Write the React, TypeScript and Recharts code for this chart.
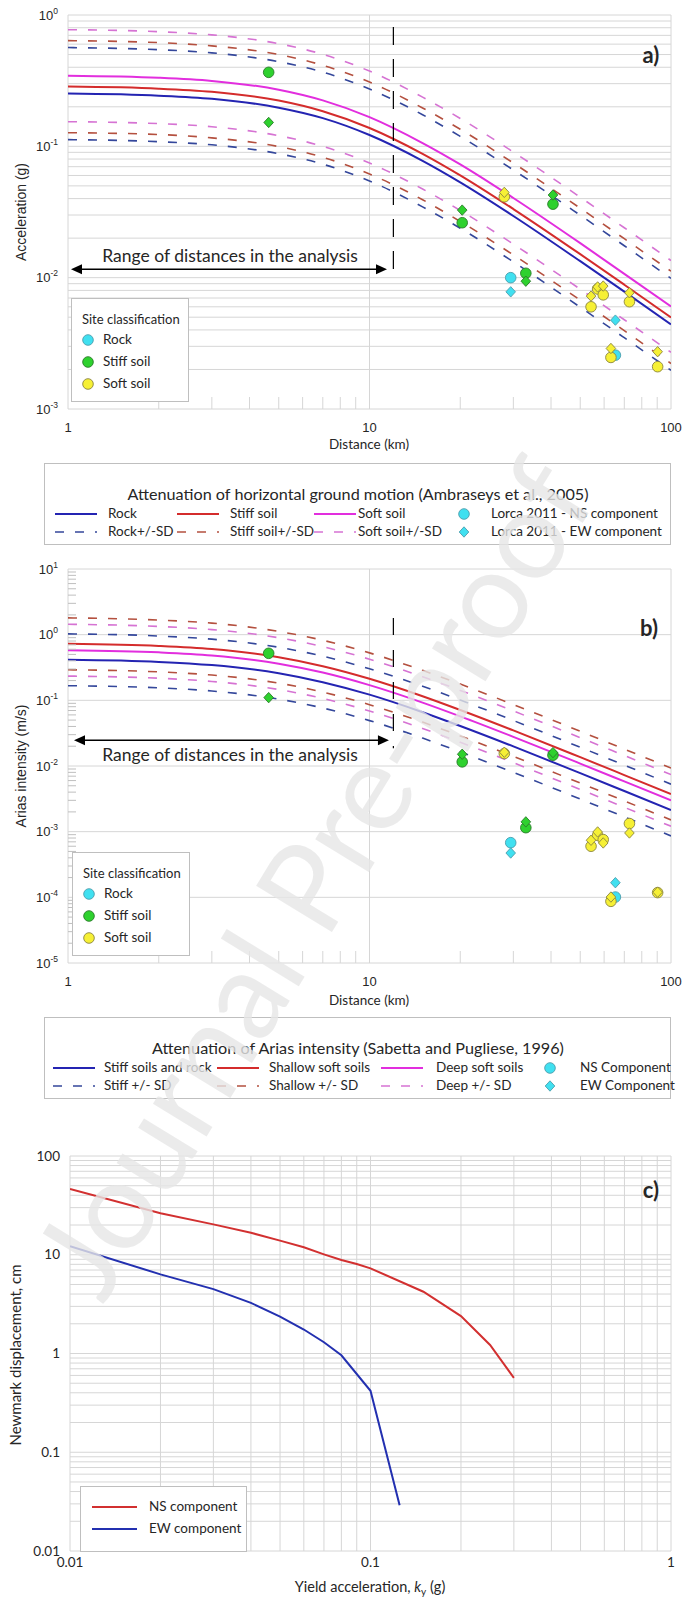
import React from 'react';
import { ComposedChart, Line, Scatter, XAxis, YAxis, CartesianGrid, ReferenceLine } from 'recharts';

// distances (km) at which the attenuation curves were read
const DIST = [1, 2, 3, 5, 7, 10, 15, 20, 30, 50, 70, 100];

// a) PGA, Ambraseys et al. 2005
const PGA_ROCK = [0.252, 0.243, 0.23, 0.197, 0.164, 0.122, 0.0776, 0.0532, 0.0295, 0.01335, 0.00782, 0.00441];
const PGA_STIFF = [0.285, 0.275, 0.26, 0.223, 0.185, 0.138, 0.0877, 0.0601, 0.0333, 0.0151, 0.00884, 0.00498];
const PGA_SOFT = [0.345, 0.333, 0.315, 0.27, 0.224, 0.167, 0.106, 0.0729, 0.0404, 0.0183, 0.0107, 0.00604];
const PGA_ROCK_HI = [0.565, 0.544, 0.515, 0.441, 0.367, 0.273, 0.174, 0.119, 0.0661, 0.0299, 0.0175, 0.00988];
const PGA_ROCK_LO = [0.1125, 0.1085, 0.1027, 0.0879, 0.0731, 0.0545, 0.0346, 0.0238, 0.0132, 0.00596, 0.00349, 0.00197];
const PGA_STIFF_HI = [0.638, 0.616, 0.582, 0.5, 0.414, 0.309, 0.196, 0.135, 0.0746, 0.0338, 0.0198, 0.0112];
const PGA_STIFF_LO = [0.127, 0.123, 0.116, 0.0996, 0.0826, 0.0616, 0.0392, 0.0268, 0.0149, 0.00674, 0.00395, 0.00222];
const PGA_SOFT_HI = [0.773, 0.746, 0.706, 0.605, 0.502, 0.374, 0.237, 0.163, 0.0905, 0.041, 0.024, 0.0135];
const PGA_SOFT_LO = [0.154, 0.149, 0.141, 0.1205, 0.1, 0.0746, 0.0473, 0.0325, 0.018, 0.00817, 0.00478, 0.0027];

// b) Arias intensity, Sabetta and Pugliese 1996
const IA_ROCK = [0.414, 0.385, 0.344, 0.259, 0.189, 0.122, 0.066, 0.0407, 0.0199, 0.00778, 0.00416, 0.00214];
const IA_SHALLOW = [0.725, 0.673, 0.603, 0.453, 0.331, 0.213, 0.1155, 0.0712, 0.0348, 0.01362, 0.00728, 0.00374];
const IA_DEEP = [0.58, 0.538, 0.482, 0.362, 0.265, 0.1705, 0.0924, 0.057, 0.0278, 0.01089, 0.00582, 0.00299];
const IA_ROCK_HI = [1.027, 0.954, 0.854, 0.642, 0.47, 0.302, 0.1637, 0.1009, 0.0493, 0.0193, 0.01032, 0.00529];
const IA_ROCK_LO = [0.167, 0.155, 0.1388, 0.1043, 0.0764, 0.0491, 0.0266, 0.01641, 0.00801, 0.00314, 0.00168, 0.000861];
const IA_SHALLOW_HI = [1.8, 1.67, 1.5, 1.12, 0.821, 0.528, 0.286, 0.1766, 0.0863, 0.0338, 0.0181, 0.00928];
const IA_SHALLOW_LO = [0.292, 0.271, 0.243, 0.1827, 0.1335, 0.0859, 0.0466, 0.0287, 0.01403, 0.00549, 0.00294, 0.00151];
const IA_DEEP_HI = [1.44, 1.334, 1.195, 0.898, 0.657, 0.423, 0.229, 0.1414, 0.0689, 0.027, 0.01443, 0.00742];
const IA_DEEP_LO = [0.234, 0.217, 0.194, 0.146, 0.1069, 0.0688, 0.0373, 0.023, 0.01121, 0.00439, 0.00235, 0.00121];

// Lorca 2011 records, by site class (distance km)
const ROCK_D = [29.4, 65.4];
const STIFF_D = [4.63, 20.3, 33.0, 40.6];
const SOFT_D = [28.0, 54.3, 57.1, 59.6, 63.2, 72.8, 90.3];

const PGA_ROCK_NS = [0.01, 0.00257];
const PGA_ROCK_EW = [0.0078, 0.00475];
const PGA_STIFF_NS = [0.366, 0.0262, 0.0108, 0.0363];
const PGA_STIFF_EW = [0.152, 0.0327, 0.0094, 0.0426];
const PGA_SOFT_NS = [0.0413, 0.006, 0.0082, 0.0074, 0.00247, 0.00656, 0.0021];
const PGA_SOFT_EW = [0.0446, 0.00724, 0.0085, 0.00863, 0.00289, 0.00767, 0.00273];

const IA_ROCK_NS = [0.00068, 0.000101];
const IA_ROCK_EW = [0.000473, 0.000167];
const IA_STIFF_NS = [0.52, 0.01156, 0.00115, 0.0146];
const IA_STIFF_EW = [0.11, 0.0151, 0.00141, 0.016];
const IA_SOFT_NS = [0.0155, 0.0006, 0.00088, 0.000757, 0.0000869, 0.00133, 0.000118];
const IA_SOFT_EW = [0.0162, 0.00074, 0.00099, 0.000673, 0.000101, 0.000955, 0.00012];

// c) Newmark displacement (cm) vs yield acceleration (g)
const KY_NS = [0.01, 0.02, 0.03, 0.04, 0.05, 0.06, 0.07, 0.08, 0.09, 0.1, 0.15, 0.2, 0.25, 0.3];
const NEWMARK_NS = [46.3, 26.3, 20.3, 16.7, 13.9, 11.9, 10.1, 8.84, 8.05, 7.28, 4.22, 2.39, 1.22, 0.567];
const KY_EW = [0.01, 0.02, 0.03, 0.04, 0.05, 0.06, 0.07, 0.08, 0.1, 0.125];
const NEWMARK_EW = [12.2, 6.33, 4.49, 3.26, 2.36, 1.75, 1.3, 0.96, 0.419, 0.0291];

// ticks
const X_MAJOR_AB = [1, 10, 100];
const Y_MAJOR_A = [0.001, 0.01, 0.1, 1];
const Y_MAJOR_B = [0.00001, 0.0001, 0.001, 0.01, 0.1, 1, 10];
const X_MAJOR_C = [0.01, 0.1, 1];
const Y_MAJOR_C = [0.01, 0.1, 1, 10, 100];

const FONT_UI = 'Lato, "Open Sans", sans-serif';
const FONT_AX = '"Liberation Sans", Arial, sans-serif';
const TXT = '#262626';
const GRID = '#D6D6D6';

const C_BLUE = '#2424B2';
const C_RED = '#D42C2C';
const C_PINK = '#E22EDE';
const C_BLUE_D = '#34479B';
const C_RED_D = '#B4503F';
const C_PINK_D = '#D673D3';
const DASH = '9 11';

const CYAN = '#40E0F0';
const CYAN_S = '#4C9EAE';
const GREEN = '#2ED12E';
const GREEN_S = '#2A7A2A';
const YELLOW = '#F6F035';
const YELLOW_S = '#8A8540';

const pts = (xs: number[], ys: number[]) => xs.map((x, i) => ({ d: x, v: ys[i] }));

function minorsOf(majors: number[]) {
    const out: number[] = [];
    majors.slice(0, -1).forEach((m) => {
        for (let k = 2; k <= 9; k++) out.push(Number((m * k).toPrecision(2)));
    });
    return out;
}

const dotShape = (fill: string, stroke: string) => (p: any) =>
    <circle cx={p.cx} cy={p.cy} r={5.3} fill={fill} stroke={stroke} strokeWidth={0.9} />;

const diamondShape = (fill: string, stroke: string) => (p: any) =>
    <polygon
        points={`${p.cx},${p.cy - 5.2} ${p.cx + 4.8},${p.cy} ${p.cx},${p.cy + 5.2} ${p.cx - 4.8},${p.cy}`}
        fill={fill} stroke={stroke} strokeWidth={0.9}
    />;

function RangeArrow(p: any) {
    const { x1, y1, x2, y2 } = p;
    return (
        <g>
            <line x1={x1 + 6} y1={y1} x2={x2 - 6} y2={y2} stroke="#000" strokeWidth={1.5} />
            <polygon points={`${x1},${y1} ${x1 + 11},${y1 - 5} ${x1 + 11},${y1 + 5}`} fill="#000" />
            <polygon points={`${x2},${y2} ${x2 - 11},${y2 - 5} ${x2 - 11},${y2 + 5}`} fill="#000" />
        </g>
    );
}

function DistTick(p: any) {
    const v = p.payload.value;
    if (X_MAJOR_AB.includes(v)) {
        return <text x={p.x} y={p.y + 22.5} textAnchor="middle" fontSize={13} fontFamily={FONT_AX} fill={TXT}>{v}</text>;
    }
    return <line x1={p.x} x2={p.x} y1={p.y} y2={p.y - 12} stroke={GRID} />;
}

function PowTick(p: any) {
    const v = p.payload.value;
    const exp = Math.round(Math.log10(v));
    if (Math.abs(Math.log10(v) - exp) > 0.01) {
        return <line x1={p.x} x2={p.x + 8} y1={p.y} y2={p.y} stroke="#BFBFBF" />;
    }
    return (
        <text x={p.x - 10} y={p.y + 4.5} textAnchor="end" fontSize={13} fontFamily={FONT_AX} fill={TXT}>
            10<tspan dy={-6} fontSize={8.5}>{exp}</tspan>
        </text>
    );
}

function PlainXTick(p: any) {
    return <text x={p.x} y={p.y + 15.5} textAnchor="middle" fontSize={13.5} fontFamily={FONT_UI} fill={TXT}>{p.payload.value}</text>;
}

function PlainYTick(p: any) {
    return <text x={p.x - 10} y={p.y + 4.5} textAnchor="end" fontSize={13.5} fontFamily={FONT_UI} fill={TXT}>{p.payload.value}</text>;
}

function Txt({ x, y, children, size = 13, font = FONT_UI, align = 'center', color = TXT, weight = 400, rotate = 0 }: any) {
    const tx = align === 'center' ? '-50%' : align === 'right' ? '-100%' : '0';
    return (
        <div style={{
            position: 'absolute', left: x, top: y, whiteSpace: 'nowrap', lineHeight: 1,
            transform: `translate(${tx}, -50%)${rotate ? ` rotate(${rotate}deg)` : ''}`,
            fontFamily: font, fontSize: size, color, fontWeight: weight,
        }}>{children}</div>
    );
}

function Sample({ kind, color, x, y }: any) {
    if (kind === 'solid' || kind === 'dash') {
        return (
            <svg style={{ position: 'absolute', left: x, top: y - 3 }} width={42} height={6}>
                <line x1={0} x2={42} y1={3} y2={3} stroke={color} strokeWidth={kind === 'solid' ? 2 : 1.6}
                    strokeDasharray={kind === 'dash' ? DASH : undefined} />
            </svg>
        );
    }
    const s = kind === 'circle' ? dotShape(color, CYAN_S)({ cx: 7, cy: 7 }) : diamondShape(color, CYAN_S)({ cx: 7, cy: 7 });
    return <svg style={{ position: 'absolute', left: x - 7, top: y - 7 }} width={14} height={14}>{s}</svg>;
}

function SiteLegend({ left, top }: any) {
    const rows = [
        { label: 'Rock', fill: CYAN, stroke: CYAN_S },
        { label: 'Stiff soil', fill: GREEN, stroke: GREEN_S },
        { label: 'Soft soil', fill: YELLOW, stroke: YELLOW_S },
    ];
    return (
        <div style={{ position: 'absolute', left, top, width: 118, height: 104, border: '1px solid #BFBFBF', background: '#fff', boxSizing: 'border-box' }}>
            <Txt x={10} y={20} align="left">Site classification</Txt>
            {rows.map((r, i) => (
                <React.Fragment key={r.label}>
                    <svg style={{ position: 'absolute', left: 9, top: 34 + i * 22 }} width={14} height={14}>
                        {dotShape(r.fill, r.stroke)({ cx: 7, cy: 7 })}
                    </svg>
                    <Txt x={31} y={41 + i * 22} align="left" size={13.5}>{r.label}</Txt>
                </React.Fragment>
            ))}
        </div>
    );
}

function BigLegend({ top, title, cols, rows }: any) {
    return (
        <div style={{ position: 'absolute', left: 44, top, width: 627, height: 82, border: '1px solid #BFBFBF', background: '#fff', boxSizing: 'border-box' }}>
            <Txt x={313} y={30} size={16.2}>{title}</Txt>
            {rows.map((row: any[], ri: number) => row.map((it: any, ci: number) => (
                <React.Fragment key={`${ri}-${ci}`}>
                    <Sample kind={it.kind} color={it.color} x={cols[ci].sx - 44} y={50 + ri * 18} />
                    <Txt x={cols[ci].tx - 44} y={50 + ri * 18} align="left" size={13.5}>{it.label}</Txt>
                </React.Fragment>
            )))}
        </div>
    );
}

function curve(ys: number[], color: string, dashed: boolean, key: string) {
    return (
        <Line key={key} data={pts(DIST, ys)} dataKey="v" type="monotone" stroke={color}
            strokeWidth={dashed ? 1.6 : 2} strokeDasharray={dashed ? DASH : undefined}
            dot={false} activeDot={false} isAnimationActive={false} />
    );
}

function records(ns: number[][], ew: number[][]) {
    const cls = [
        { d: ROCK_D, fill: CYAN, stroke: CYAN_S },
        { d: STIFF_D, fill: GREEN, stroke: GREEN_S },
        { d: SOFT_D, fill: YELLOW, stroke: YELLOW_S },
    ];
    return cls.flatMap((c, i) => [
        <Scatter key={`ns${i}`} data={pts(c.d, ns[i])} dataKey="v" shape={dotShape(c.fill, c.stroke)} isAnimationActive={false} />,
        <Scatter key={`ew${i}`} data={pts(c.d, ew[i])} dataKey="v" shape={diamondShape(c.fill, c.stroke)} isAnimationActive={false} />,
    ]);
}

function ChartA() {
    return (
        <div style={{ position: 'absolute', left: 0, top: 0 }}>
            <ComposedChart width={683} height={440} margin={{ top: 15, right: 12, bottom: 0, left: 8 }}>
                <CartesianGrid vertical={false} horizontalValues={[...minorsOf(Y_MAJOR_A), ...Y_MAJOR_A]} stroke={GRID} />
                <CartesianGrid horizontal={false} verticalValues={X_MAJOR_AB} stroke={GRID} />
                <XAxis type="number" dataKey="d" scale="log" domain={[1, 100]} allowDataOverflow
                    ticks={[...X_MAJOR_AB, ...minorsOf(X_MAJOR_AB)]} interval={0} height={31}
                    axisLine={false} tickLine={false} tickSize={0} tickMargin={0} tick={(p: any) => <DistTick {...p} />} />
                <YAxis type="number" dataKey="v" scale="log" domain={[0.001, 1]} allowDataOverflow
                    ticks={Y_MAJOR_A} interval={0} width={60}
                    axisLine={false} tickLine={false} tickSize={0} tickMargin={0} tick={(p: any) => <PowTick {...p} />} />
                {curve(PGA_SOFT_HI, C_PINK_D, true, 'sh')}
                {curve(PGA_STIFF_HI, C_RED_D, true, 'th')}
                {curve(PGA_ROCK_HI, C_BLUE_D, true, 'rh')}
                {curve(PGA_SOFT_LO, C_PINK_D, true, 'sl')}
                {curve(PGA_STIFF_LO, C_RED_D, true, 'tl')}
                {curve(PGA_ROCK_LO, C_BLUE_D, true, 'rl')}
                {curve(PGA_SOFT, C_PINK, false, 's')}
                {curve(PGA_STIFF, C_RED, false, 't')}
                {curve(PGA_ROCK, C_BLUE, false, 'r')}
                <ReferenceLine segment={[{ x: 12, y: 0.81 }, { x: 12, y: 0.0099 }]} stroke="#000" strokeWidth={1.2} strokeDasharray="18 14" />
                <ReferenceLine segment={[{ x: 1.023, y: 0.0116 }, { x: 11.43, y: 0.0116 }]} shape={(p: any) => <RangeArrow {...p} />} />
                {records([PGA_ROCK_NS, PGA_STIFF_NS, PGA_SOFT_NS], [PGA_ROCK_EW, PGA_STIFF_EW, PGA_SOFT_EW])}
            </ComposedChart>
        </div>
    );
}

function ChartB() {
    return (
        <div style={{ position: 'absolute', left: 0, top: 550 }}>
            <ComposedChart width={683} height={444} margin={{ top: 19, right: 12, bottom: 0, left: 8 }}>
                <CartesianGrid vertical={false} horizontalValues={Y_MAJOR_B} stroke={GRID} />
                <CartesianGrid horizontal={false} verticalValues={X_MAJOR_AB} stroke={GRID} />
                <XAxis type="number" dataKey="d" scale="log" domain={[1, 100]} allowDataOverflow
                    ticks={[...X_MAJOR_AB, ...minorsOf(X_MAJOR_AB)]} interval={0} height={31}
                    axisLine={false} tickLine={false} tickSize={0} tickMargin={0} tick={(p: any) => <DistTick {...p} />} />
                <YAxis type="number" dataKey="v" scale="log" domain={[0.00001, 10]} allowDataOverflow
                    ticks={[...Y_MAJOR_B, ...minorsOf(Y_MAJOR_B)]} interval={0} width={60}
                    axisLine={false} tickLine={false} tickSize={0} tickMargin={0} tick={(p: any) => <PowTick {...p} />} />
                {curve(IA_SHALLOW_HI, C_RED_D, true, 'sh')}
                {curve(IA_DEEP_HI, C_PINK_D, true, 'dh')}
                {curve(IA_ROCK_HI, C_BLUE_D, true, 'rh')}
                {curve(IA_SHALLOW_LO, C_RED_D, true, 'sl')}
                {curve(IA_DEEP_LO, C_PINK_D, true, 'dl')}
                {curve(IA_ROCK_LO, C_BLUE_D, true, 'rl')}
                {curve(IA_SHALLOW, C_RED, false, 's')}
                {curve(IA_DEEP, C_PINK, false, 'd')}
                {curve(IA_ROCK, C_BLUE, false, 'r')}
                <ReferenceLine segment={[{ x: 12, y: 1.79 }, { x: 12, y: 0.0187 }]} stroke="#000" strokeWidth={1.2} strokeDasharray="17 15" />
                <ReferenceLine segment={[{ x: 1.047, y: 0.0247 }, { x: 11.6, y: 0.0247 }]} shape={(p: any) => <RangeArrow {...p} />} />
                {records([IA_ROCK_NS, IA_STIFF_NS, IA_SOFT_NS], [IA_ROCK_EW, IA_STIFF_EW, IA_SOFT_EW])}
            </ComposedChart>
        </div>
    );
}

function ChartC() {
    return (
        <div style={{ position: 'absolute', left: 0, top: 1140 }}>
            <ComposedChart width={683} height={442} margin={{ top: 16, right: 12, bottom: 0, left: 10 }}>
                <CartesianGrid horizontalValues={[...minorsOf(Y_MAJOR_C), ...Y_MAJOR_C]}
                    verticalValues={[...minorsOf(X_MAJOR_C), ...X_MAJOR_C]} stroke={GRID} />
                <XAxis type="number" dataKey="d" scale="log" domain={[0.01, 1]} allowDataOverflow
                    ticks={X_MAJOR_C} interval={0} height={31}
                    axisLine={false} tickLine={false} tickSize={0} tickMargin={0} tick={(p: any) => <PlainXTick {...p} />} />
                <YAxis type="number" dataKey="v" scale="log" domain={[0.01, 100]} allowDataOverflow
                    ticks={Y_MAJOR_C} interval={0} width={60}
                    axisLine={false} tickLine={false} tickSize={0} tickMargin={0} tick={(p: any) => <PlainYTick {...p} />} />
                <Line data={pts(KY_NS, NEWMARK_NS)} dataKey="v" type="linear" stroke="#D23030" strokeWidth={2}
                    dot={false} activeDot={false} isAnimationActive={false} />
                <Line data={pts(KY_EW, NEWMARK_EW)} dataKey="v" type="linear" stroke="#2330B0" strokeWidth={2}
                    dot={false} activeDot={false} isAnimationActive={false} />
            </ComposedChart>
        </div>
    );
}

const LEGEND_A_COLS = [{ sx: 54, tx: 107 }, { sx: 176, tx: 229 }, { sx: 313, tx: 357 }, { sx: 463, tx: 490 }];
const LEGEND_B_COLS = [{ sx: 52, tx: 103 }, { sx: 216, tx: 268 }, { sx: 380, tx: 435 }, { sx: 549, tx: 579 }];

export default function App() {
    return (
        <div style={{ position: 'relative', width: 683, height: 1609, background: '#fff' }}>
            <style>{'body{margin:0}'}</style>
            <ChartA />
            <ChartB />
            <ChartC />

            <Txt x={21} y={212} size={14} font={FONT_AX} rotate={-90}>Acceleration (g)</Txt>
            <Txt x={369} y={445} size={13.5}>Distance (km)</Txt>
            <Txt x={230} y={256} size={17.5}>Range of distances in the analysis</Txt>
            <Txt x={651} y={55} size={22} weight={700}>a)</Txt>
            <SiteLegend left={71} top={298} />

            <BigLegend
                top={463}
                title="Attenuation of horizontal ground motion (Ambraseys et al., 2005)"
                cols={LEGEND_A_COLS}
                rows={[
                    [{ kind: 'solid', color: C_BLUE, label: 'Rock' }, { kind: 'solid', color: C_RED, label: 'Stiff soil' },
                    { kind: 'solid', color: C_PINK, label: 'Soft soil' }, { kind: 'circle', color: CYAN, label: 'Lorca 2011 - NS component' }],
                    [{ kind: 'dash', color: C_BLUE_D, label: 'Rock+/-SD' }, { kind: 'dash', color: C_RED_D, label: 'Stiff soil+/-SD' },
                    { kind: 'dash', color: C_PINK_D, label: 'Soft soil+/-SD' }, { kind: 'diamond', color: CYAN, label: 'Lorca 2011 - EW component' }],
                ]}
            />

            <Txt x={21} y={766} size={14} font={FONT_AX} rotate={-90}>Arias intensity (m/s)</Txt>
            <Txt x={369} y={1001} size={13.5}>Distance (km)</Txt>
            <Txt x={230} y={755} size={17.5}>Range of distances in the analysis</Txt>
            <Txt x={649} y={628} size={22} weight={700}>b)</Txt>
            <SiteLegend left={72} top={852} />

            <BigLegend
                top={1017}
                title="Attenuation of Arias intensity (Sabetta and Pugliese, 1996)"
                cols={LEGEND_B_COLS}
                rows={[
                    [{ kind: 'solid', color: C_BLUE, label: 'Stiff soils and rock' }, { kind: 'solid', color: C_RED, label: 'Shallow soft soils' },
                    { kind: 'solid', color: C_PINK, label: 'Deep soft soils' }, { kind: 'circle', color: CYAN, label: 'NS Component' }],
                    [{ kind: 'dash', color: C_BLUE_D, label: 'Stiff +/- SD' }, { kind: 'dash', color: C_RED_D, label: 'Shallow +/- SD' },
                    { kind: 'dash', color: C_PINK_D, label: 'Deep +/- SD' }, { kind: 'diamond', color: CYAN, label: 'EW Component' }],
                ]}
            />

            <Txt x={15} y={1355} size={15} rotate={-90}>Newmark displacement, cm</Txt>
            <Txt x={370} y={1588} size={14.5}>Yield acceleration, <i>k</i><sub style={{ fontSize: 10 }}>y</sub> (g)</Txt>
            <Txt x={651} y={1190} size={22} weight={700}>c)</Txt>
            <div style={{ position: 'absolute', left: 80, top: 1486, width: 167, height: 66, border: '1px solid #BFBFBF', background: '#fff', boxSizing: 'border-box' }}>
                <svg style={{ position: 'absolute', left: 11, top: 17 }} width={45} height={6}><line x1={0} x2={45} y1={3} y2={3} stroke="#D23030" strokeWidth={2} /></svg>
                <svg style={{ position: 'absolute', left: 11, top: 39 }} width={45} height={6}><line x1={0} x2={45} y1={3} y2={3} stroke="#2330B0" strokeWidth={2} /></svg>
                <Txt x={68} y={20} align="left" size={13.5}>NS component</Txt>
                <Txt x={68} y={42} align="left" size={13.5}>EW component</Txt>
            </div>

            {/* watermark: vertical text turned onto the diagonal */}
            <div style={{
                position: 'absolute', left: 310, top: 876, transform: 'translate(-50%, -50%) rotate(-148.5deg)',
                writingMode: 'vertical-rl', fontFamily: FONT_UI, fontSize: 124, color: 'rgba(230,230,230,0.8)',
                whiteSpace: 'nowrap', pointerEvents: 'none', lineHeight: 1,
            }}>Journal Pre-proof</div>
        </div>
    );
}
